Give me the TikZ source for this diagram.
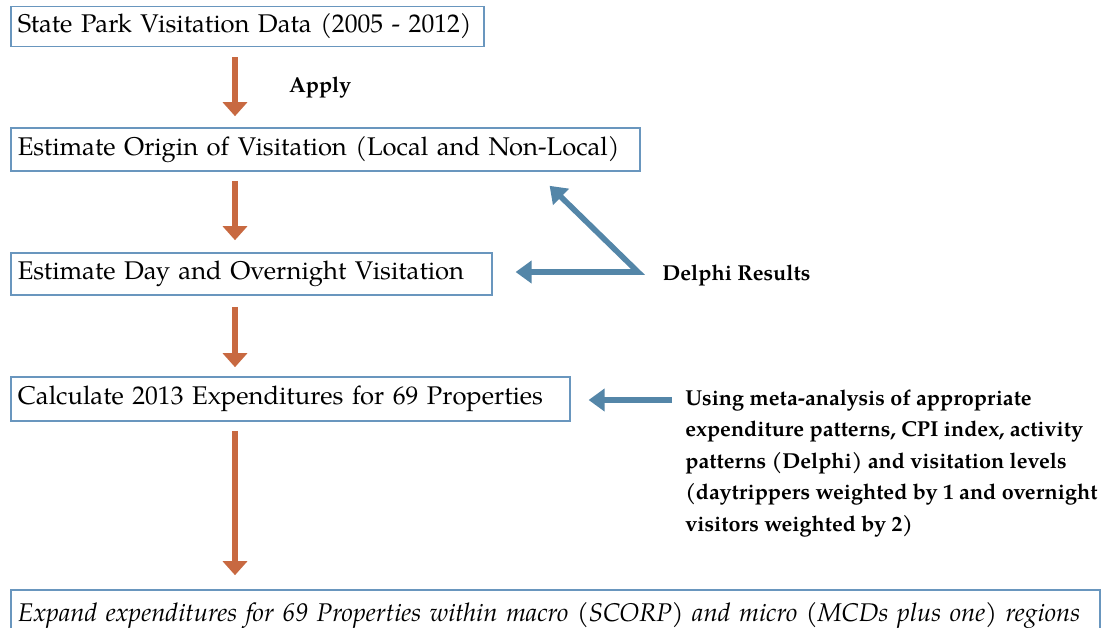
\documentclass[tikz,border=0pt]{standalone}
\usepackage{fontspec}
\setmainfont{TeX Gyre Pagella}
\usetikzlibrary{arrows.meta}
\definecolor{boxline}{RGB}{105,150,190}
\definecolor{flowor}{RGB}{200,105,65}
\definecolor{feedbl}{RGB}{84,134,168}
\tikzset{
  stepbox/.style={draw=boxline, line width=0.8pt, anchor=west, align=left,
    inner xsep=3.5pt, font=\fontsize{12.8}{15}\selectfont},
  flow/.style={draw=flowor, line width=3pt, -{Triangle[width=12pt,length=7pt]}},
  feed/.style={draw=feedbl, line width=2.8pt, -{Triangle[width=11pt,length=8pt]}},
  feedboth/.style={feed, {Triangle[width=11pt,length=8pt]}-{Triangle[width=11pt,length=8pt]}},
  note/.style={font=\fontsize{10.8}{15.75}\selectfont\bfseries, align=left, inner sep=0pt}
}
\begin{document}
\begin{tikzpicture}[x=0.5pt,y=-0.5pt]
\useasboundingbox (0,0) rectangle (1102,627);
\clip (0,0) rectangle (1102,627);
% steps
\draw (10,26.5) node[stepbox, text width=229.5pt, minimum height=20pt](park) {State Park Visitation Data (2005 - 2012)} ;
\draw (10,149.5) node[stepbox, text width=307.5pt, minimum height=21.5pt](origin) {Estimate Origin of Visitation (Local and Non-Local)} ;
\draw (10,274) node[stepbox, text width=233.5pt, minimum height=21pt](dayover) {Estimate Day and Overnight Visitation} ;
\draw (10,399) node[stepbox, text width=272.5pt, minimum height=22pt](calc) {Calculate 2013 Expenditures for 69 Properties} ;
\draw (10,615) node[stepbox, text width=537.5pt, minimum height=25pt, font=\fontsize{12.8}{15}\selectfont\itshape](expand) {Expand expenditures for 69 Properties within macro (SCORP) and micro (MCDs plus one) regions} ;
% side notes
\draw (320,88) node[note](apply) {Apply} ;
\draw (662,276) node[note, anchor=west](delphi) {Delphi Results} ;
\draw (685,389.5) node[note, anchor=north west](meta) {Using meta-analysis of appropriate\\expenditure patterns, CPI index, activity\\patterns (Delphi) and visitation levels\\(daytrippers weighted by 1 and overnight\\visitors weighted by 2)} ;
\coordinate (dapex) at (638,272) ;
\coordinate (mtail) at (672,400) ;
% main flow
\draw[flow, shorten <=5pt, shorten >=5.5pt] ([xshift=112.5pt]park.south west) -- ([xshift=112.5pt]origin.north west) ;
\draw[flow, shorten <=4.5pt, shorten >=6pt] ([xshift=112.5pt]origin.south west) -- ([xshift=112.5pt]dayover.north west) ;
\draw[flow, shorten <=5.5pt, shorten >=4.5pt] ([xshift=112.5pt]dayover.south west) -- ([xshift=112.5pt]calc.north west) ;
\draw[flow, shorten <=4.5pt, shorten >=7pt] ([xshift=112.5pt]calc.south west) -- ([xshift=112.5pt]expand.north west) ;
% feedback
\draw[feedboth, line join=miter] ([xshift=-45.5pt,yshift=-7pt]origin.south east) -- (dapex) -- ([xshift=11.5pt]dayover.east |- dapex) ;
\draw[feed] (mtail) -- ([xshift=9pt]calc.east |- mtail) ;
\end{tikzpicture}
\end{document}
